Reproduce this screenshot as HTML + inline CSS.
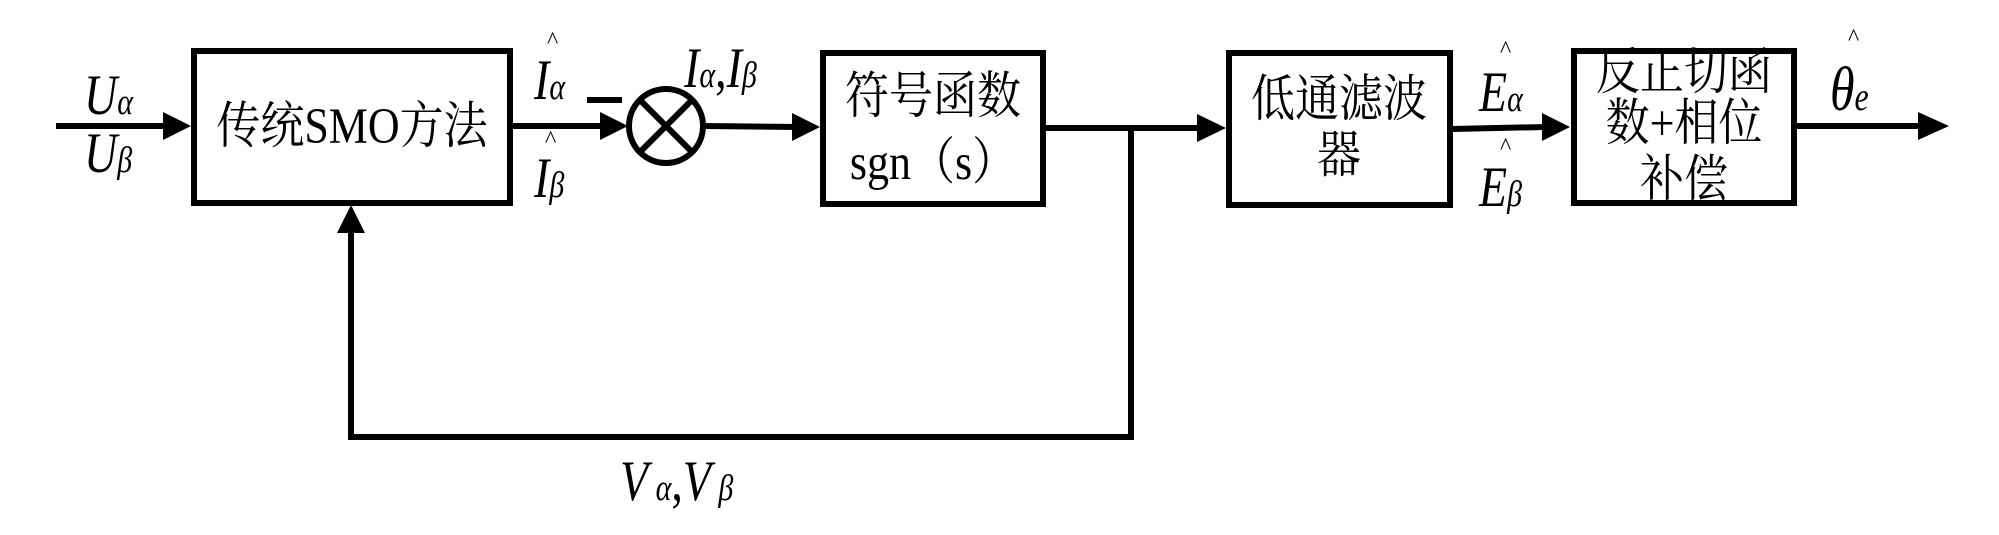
<!DOCTYPE html>
<html><head><meta charset="utf-8"><style>
html,body{margin:0;padding:0;background:#fff;}
svg{display:block;}
text{font-family:"Liberation Serif","Noto Serif CJK SC",serif;fill:#000;}
.it{font-style:italic;}
</style></head><body>
<svg width="1999" height="535" viewBox="0 0 1999 535" xmlns="http://www.w3.org/2000/svg">
<g stroke="#000" stroke-width="6" fill="none">
  <line x1="56" y1="126" x2="166" y2="126"/>
  <rect x="194" y="51" width="316" height="152"/>
  <line x1="512" y1="126" x2="604" y2="126"/>
  <circle cx="666" cy="126" r="37"/>
  <line x1="640" y1="100" x2="692" y2="152"/>
  <line x1="692" y1="100" x2="640" y2="152"/>
  <line x1="587" y1="100" x2="622" y2="100"/>
  <line x1="703" y1="126" x2="798" y2="127"/>
  <rect x="823" y="53" width="220" height="151"/>
  <line x1="1045" y1="128" x2="1200" y2="128"/>
  <polyline points="1131,128 1131,437 351,437 351,228"/>
  <rect x="1229" y="53" width="221" height="152"/>
  <line x1="1452" y1="129" x2="1545" y2="127"/>
  <rect x="1574" y="51" width="220" height="152"/>
  <line x1="1796" y1="126" x2="1922" y2="126"/>
</g>
<g fill="#000">
  <polygon points="163,112 191,126 163,140"/>
  <polygon points="600,112 628,126 600,140"/>
  <polygon points="792,113 820,127 792,141"/>
  <polygon points="1197,114 1226,128 1197,142"/>
  <polygon points="1542,113 1570,127 1542,141"/>
  <polygon points="1918,112 1949,126 1918,140"/>
  <polygon points="337,233 351,205 365,233"/>
</g>
<text transform="translate(352,143) scale(1,1.15)" font-size="44" text-anchor="middle">传统SMO方法</text>
<text transform="translate(933,113) scale(1,1.15)" font-size="44" text-anchor="middle">符号函数</text>
<text transform="translate(933,179) scale(1,1.15)" font-size="44" text-anchor="middle">sgn（s）</text>
<text transform="translate(1339,116) scale(1,1.15)" font-size="44" text-anchor="middle">低通滤波</text>
<text transform="translate(1339,172) scale(1,1.15)" font-size="44" text-anchor="middle">器</text>
<text transform="translate(1684,89) scale(1,1.15)" font-size="44" text-anchor="middle">反正切函</text>
<text transform="translate(1684,140) scale(1,1.15)" font-size="44" text-anchor="middle">数+相位</text>
<text transform="translate(1684,196) scale(1,1.15)" font-size="44" text-anchor="middle">补偿</text>

<text transform="translate(84,114) scale(1,1.25)" font-size="46" class="it">U<tspan font-size="30">α</tspan></text>
<text transform="translate(84,172) scale(1,1.25)" font-size="46" class="it">U<tspan font-size="30">β</tspan></text>
<text x="547" y="48" font-size="24">^</text>
<text transform="translate(534,99) scale(1,1.25)" font-size="46" class="it">I<tspan font-size="30">α</tspan></text>
<text x="545" y="147" font-size="24">^</text>
<text transform="translate(534,197) scale(1,1.25)" font-size="46" class="it">I<tspan font-size="30">β</tspan></text>
<text transform="translate(684,87) scale(1,1.25)" font-size="46" class="it">I<tspan font-size="30">α</tspan><tspan font-style="normal">,</tspan>I<tspan font-size="30">β</tspan></text>
<text x="1500" y="57" font-size="24">^</text>
<text transform="translate(1479,111) scale(1,1.25)" font-size="46" class="it">E<tspan font-size="30">α</tspan></text>
<text x="1500" y="154" font-size="24">^</text>
<text transform="translate(1479,206) scale(1,1.25)" font-size="46" class="it">E<tspan font-size="30">β</tspan></text>
<text x="1848" y="45" font-size="24">^</text>
<text transform="translate(1830,110) scale(1,1.25)" font-size="50" class="it">θ<tspan font-size="32">e</tspan></text>
<text transform="translate(620,500) scale(1,1.25)" font-size="46" class="it">V<tspan font-size="30"> α</tspan><tspan font-style="normal">,</tspan>V<tspan font-size="30"> β</tspan></text>
</svg>
</body></html>
